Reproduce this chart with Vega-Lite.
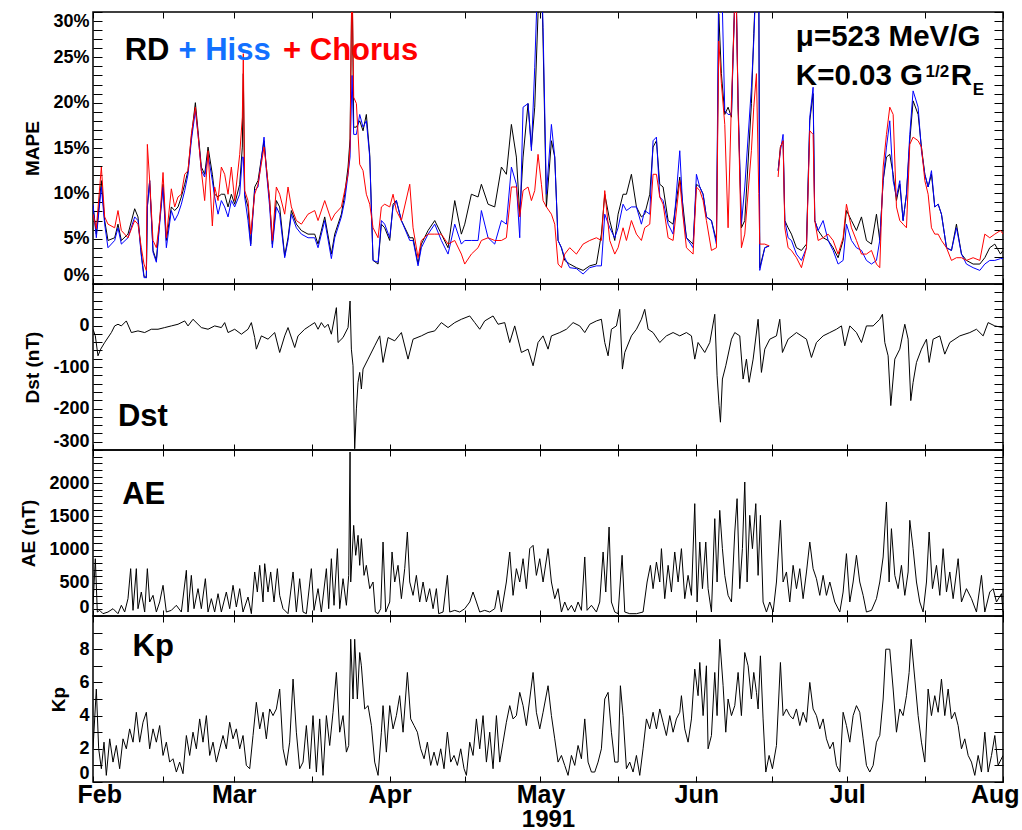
{
"$schema":"https://vega.github.io/schema/vega-lite/v6.json",
"padding":{"left":19,"top":10,"right":5,"bottom":0},
"config":{"view":{"stroke":"black","strokeWidth":1.5},"font":"Liberation Sans",
"axis":{"domain":false,"grid":false,"tickColor":"black","tickWidth":1,"labelColor":"black","labelFont":"Liberation Sans","labelFontWeight":"bold","titleColor":"black","titleFont":"Liberation Sans","titleFontWeight":"bold","labelOverlap":false}},
"datasets":{
"mape":[{"t":0,"k":8.6,"b":8.8,"r":7.7},{"t":0.66,"k":5.5,"b":5.1,"r":6.1},{"t":1.66,"k":11.4,"b":10.7,"r":12.9},{"t":2.32,"k":7,"b":6.6,"r":7.4},{"t":2.98,"k":4.8,"b":4,"r":6.6},{"t":4.31,"k":5.1,"b":4.8,"r":6.2},{"t":4.97,"k":6.6,"b":6.2,"r":8.1},{"t":5.64,"k":4.8,"b":4.4,"r":5.9},{"t":6.96,"k":5.5,"b":5.1,"r":5.1},{"t":8.29,"k":8.3,"b":7.4,"r":7},{"t":8.95,"k":7.4,"b":7,"r":6.6},{"t":9.61,"k":3.3,"b":3.1,"r":4},{"t":10.14,"k":0.9,"b":0.7,"r":2.2},{"t":10.61,"k":0.7,"b":0.7,"r":1.5},{"t":10.81,"k":8.5,"b":8.5,"r":15.4},{"t":11.27,"k":11.4,"b":11.4,"r":11.4},{"t":11.94,"k":3.7,"b":3.5,"r":4.8},{"t":12.6,"k":2.6,"b":2.4,"r":4},{"t":13.26,"k":7,"b":6.6,"r":7},{"t":13.93,"k":11,"b":10.7,"r":12.3},{"t":14.59,"k":4.8,"b":4,"r":5.1},{"t":15.58,"k":8.5,"b":8.1,"r":10.5},{"t":16.25,"k":8.1,"b":7,"r":8.5},{"t":16.91,"k":8.5,"b":7.7,"r":9.6},{"t":17.57,"k":9.6,"b":8.8,"r":9.9},{"t":18.24,"k":11,"b":10.3,"r":12.1},{"t":18.9,"k":12.5,"b":12.1,"r":12.5},{"t":19.56,"k":16.2,"b":15.8,"r":16.5},{"t":20.36,"k":20,"b":19.1,"r":19.5},{"t":20.89,"k":16.9,"b":16.5,"r":16.5},{"t":21.55,"k":12.9,"b":12.5,"r":12.5},{"t":22.21,"k":12.1,"b":11.8,"r":9.2},{"t":22.88,"k":15.1,"b":14.3,"r":14.7},{"t":23.74,"k":12.1,"b":11.4,"r":6.4},{"t":24.2,"k":9.9,"b":9.6,"r":10.7},{"t":24.87,"k":9.6,"b":7.7,"r":9.2},{"t":25.53,"k":9.9,"b":9.2,"r":12.9},{"t":26.19,"k":9.9,"b":8.5,"r":12.1},{"t":26.86,"k":8.5,"b":7.4,"r":9.9},{"t":27.52,"k":9.9,"b":9.2,"r":12.9},{"t":28.18,"k":8.8,"b":8.5,"r":9.2},{"t":29.18,"k":11,"b":9.9,"r":14.3},{"t":29.7,"k":15.1,"b":14,"r":18.4},{"t":29.9,"k":23.2,"b":14,"r":25.4},{"t":30.17,"k":9.9,"b":9.6,"r":10.3},{"t":30.83,"k":8.5,"b":7,"r":9.2},{"t":31.37,"k":4.4,"b":4.2,"r":5.5},{"t":32.16,"k":10.7,"b":10.3,"r":9.9},{"t":32.82,"k":11.4,"b":10.7,"r":11},{"t":34.02,"k":15.8,"b":16.2,"r":15.1},{"t":34.48,"k":12.9,"b":12.5,"r":12.9},{"t":35.14,"k":9.2,"b":8.5,"r":9.2},{"t":35.67,"k":4.4,"b":4,"r":4.8},{"t":36.47,"k":9.2,"b":8.5,"r":10.7},{"t":37.13,"k":8.5,"b":7.7,"r":9.9},{"t":38.13,"k":3.1,"b":2.9,"r":7.7},{"t":38.79,"k":5.1,"b":4.8,"r":10.7},{"t":39.46,"k":8.1,"b":7.7,"r":8.5},{"t":40.45,"k":6.6,"b":6.2,"r":7},{"t":41.45,"k":5.9,"b":5.5,"r":6.6},{"t":42.77,"k":5.5,"b":5.1,"r":7.7},{"t":44.1,"k":5.5,"b":5.1,"r":8.1},{"t":44.76,"k":4.4,"b":4,"r":7},{"t":46.09,"k":7.4,"b":7,"r":9.2},{"t":47.41,"k":3.3,"b":2.8,"r":7},{"t":48.08,"k":5.5,"b":5.1,"r":7.7},{"t":49.4,"k":7.7,"b":7.4,"r":8.5},{"t":50.07,"k":9.9,"b":9.2,"r":10.3},{"t":50.73,"k":12.9,"b":12.1,"r":12.1},{"t":51.13,"k":16,"b":14,"r":15.1},{"t":51.52,"k":35,"b":23,"r":35},{"t":51.85,"k":17.3,"b":16.5,"r":20.6},{"t":52.39,"k":17.3,"b":16.5,"r":19.9},{"t":53.05,"k":18,"b":18.7,"r":13.2},{"t":53.71,"k":16.9,"b":17.3,"r":12.5},{"t":54.37,"k":18.7,"b":18,"r":9.9},{"t":55.04,"k":14.3,"b":14,"r":8.8},{"t":55.7,"k":2.6,"b":2.6,"r":6.2},{"t":56.7,"k":2.2,"b":2.4,"r":5.1},{"t":57.36,"k":6.6,"b":7,"r":8.5},{"t":58.02,"k":6.2,"b":6.6,"r":8.8},{"t":59.02,"k":4.8,"b":5.1,"r":8.5},{"t":59.68,"k":8.8,"b":8.5,"r":9.9},{"t":60.34,"k":9.2,"b":9.2,"r":8.1},{"t":61.34,"k":7,"b":7,"r":7},{"t":63,"k":5.1,"b":4.8,"r":11},{"t":63.66,"k":5.1,"b":4.8,"r":6.2},{"t":64.65,"k":2.2,"b":2,"r":2.9},{"t":65.31,"k":4.4,"b":4,"r":4.8},{"t":66.64,"k":5.9,"b":5.5,"r":5.5},{"t":67.97,"k":7,"b":6.6,"r":5.5},{"t":69.29,"k":5.5,"b":4.8,"r":5.5},{"t":70.62,"k":4,"b":3.3,"r":4.4},{"t":71.95,"k":9.2,"b":6.6,"r":4.8},{"t":73.27,"k":5.5,"b":4.4,"r":3.3},{"t":73.94,"k":6.6,"b":4.8,"r":2.2},{"t":75.26,"k":9.9,"b":4.8,"r":3.3},{"t":76.59,"k":9.6,"b":4.8,"r":4},{"t":77.25,"k":11,"b":8.1,"r":4.8},{"t":78.58,"k":8.8,"b":5.1,"r":5.1},{"t":79.9,"k":8.5,"b":4.4,"r":4.8},{"t":81.23,"k":12.9,"b":7,"r":4.8},{"t":82.22,"k":12.1,"b":6.6,"r":5.1},{"t":83.22,"k":17.6,"b":12.9,"r":10.7},{"t":84.21,"k":14,"b":11,"r":10.7},{"t":84.88,"k":7.7,"b":5.1,"r":7.4},{"t":85.54,"k":14,"b":19.5,"r":10.3},{"t":86.53,"k":19.9,"b":19.9,"r":10.7},{"t":87.2,"k":15.1,"b":14.7,"r":9.2},{"t":87.86,"k":19.5,"b":23.9,"r":10.3},{"t":88.52,"k":29.8,"b":35,"r":14.3},{"t":89.19,"k":35,"b":35,"r":11},{"t":89.52,"k":26.8,"b":28.3,"r":9.2},{"t":90.18,"k":8.5,"b":9.9,"r":8.5},{"t":91.18,"k":15.8,"b":17.6,"r":7.7},{"t":91.84,"k":14,"b":14,"r":6.6},{"t":92.5,"k":4.8,"b":4.8,"r":2.2},{"t":93.17,"k":4,"b":4,"r":1.8},{"t":93.83,"k":2.6,"b":2.9,"r":3.3},{"t":94.82,"k":2.2,"b":1.8,"r":4},{"t":96.15,"k":1.8,"b":1.7,"r":3.3},{"t":97.48,"k":1.5,"b":1.1,"r":4.4},{"t":98.8,"k":2,"b":1.8,"r":4.8},{"t":100.13,"k":2.2,"b":2,"r":5.1},{"t":101.12,"k":5.5,"b":2,"r":4.8},{"t":101.79,"k":9.9,"b":7.7,"r":10.3},{"t":102.78,"k":7,"b":6.2,"r":4.8},{"t":103.78,"k":4.8,"b":5.1,"r":3.3},{"t":104.44,"k":7.7,"b":6.2,"r":4},{"t":105.43,"k":9.9,"b":8.8,"r":6.2},{"t":106.1,"k":9.9,"b":8.1,"r":4.8},{"t":107.09,"k":12.1,"b":8.5,"r":7},{"t":108.09,"k":8.5,"b":8.5,"r":5.5},{"t":109.08,"k":7.4,"b":6.6,"r":4.8},{"t":109.74,"k":7.7,"b":8.1,"r":6.2},{"t":110.74,"k":9.9,"b":7.7,"r":6.6},{"t":111.4,"k":15.1,"b":15.8,"r":12.1},{"t":112.07,"k":15.8,"b":16.2,"r":12.1},{"t":112.73,"k":11,"b":9.6,"r":9.6},{"t":113.39,"k":10.7,"b":9.2,"r":8.8},{"t":114.39,"k":7,"b":6.6,"r":5.1},{"t":115.38,"k":6.6,"b":5.5,"r":4.8},{"t":116.71,"k":11.8,"b":14.7,"r":11.4},{"t":117.37,"k":8.5,"b":7.7,"r":7.4},{"t":118.03,"k":5.1,"b":5.1,"r":4},{"t":119.36,"k":4.4,"b":4,"r":3.3},{"t":120.02,"k":11,"b":12.1,"r":10.7},{"t":120.69,"k":10.7,"b":10.7,"r":10.3},{"t":121.35,"k":9.9,"b":9.9,"r":9.2},{"t":122.01,"k":7.4,"b":7.4,"r":7},{"t":123.01,"k":7,"b":7,"r":3.7},{"t":124,"k":4.8,"b":4.4,"r":4},{"t":124.47,"k":29.8,"b":35,"r":26.8},{"t":124.99,"k":23.2,"b":35,"r":22.1},{"t":125.66,"k":18.7,"b":19.1,"r":17.6},{"t":126.32,"k":19.5,"b":18.7,"r":6.2},{"t":126.99,"k":18.4,"b":18.7,"r":20.2},{"t":127.32,"k":25.7,"b":25,"r":25.4},{"t":127.85,"k":35,"b":35,"r":35},{"t":128.31,"k":19.5,"b":20.2,"r":19.5},{"t":128.97,"k":6.2,"b":6.6,"r":4},{"t":129.64,"k":7,"b":10.7,"r":5.5},{"t":130.96,"k":19.9,"b":21.7,"r":14.7},{"t":131.43,"k":27.6,"b":26.8,"r":19.5},{"t":131.96,"k":35,"b":35,"r":23.2},{"t":132.42,"k":35,"b":35,"r":10},{"t":132.62,"k":1.8,"b":1.5,"r":4.4},{"t":133.62,"k":4,"b":4,"r":4.4},{"t":134.48,"k":4.2,"b":4.2,"r":4.2},{"t":135.4,"k":null,"b":null,"r":null},{"t":136.27,"k":12.5,"b":12.5,"r":11.8},{"t":136.73,"k":15.1,"b":14.7,"r":15.1},{"t":137.26,"k":15.8,"b":16.5,"r":15.8},{"t":137.6,"k":7,"b":7,"r":6.2},{"t":138.26,"k":6.2,"b":5.1,"r":4},{"t":138.92,"k":5.5,"b":4.8,"r":3.7},{"t":139.92,"k":4,"b":3.3,"r":2.9},{"t":140.91,"k":3.7,"b":2.6,"r":1.8},{"t":141.91,"k":4.4,"b":4,"r":4},{"t":142.57,"k":18,"b":18.4,"r":16.9},{"t":143.23,"k":21,"b":21.7,"r":16.5},{"t":143.56,"k":7,"b":7,"r":7},{"t":144.23,"k":5.9,"b":5.9,"r":4.8},{"t":145.22,"k":5.1,"b":7,"r":5.1},{"t":146.22,"k":4.8,"b":4.8,"r":5.5},{"t":147.21,"k":4,"b":3.7,"r":4.8},{"t":148.2,"k":2.9,"b":2.2,"r":3.3},{"t":149.2,"k":4.8,"b":2.6,"r":5.1},{"t":149.86,"k":8.1,"b":6.6,"r":8.8},{"t":150.86,"k":7,"b":4.8,"r":6.2},{"t":151.85,"k":5.9,"b":4,"r":4.8},{"t":152.85,"k":7.4,"b":3.7,"r":3.3},{"t":153.84,"k":4.8,"b":2.6,"r":3.3},{"t":154.84,"k":4.4,"b":2.2,"r":3.7},{"t":155.83,"k":7.7,"b":2.6,"r":2.2},{"t":156.49,"k":4.8,"b":4.8,"r":1.8},{"t":157.16,"k":11.4,"b":11.4,"r":12.9},{"t":157.82,"k":14,"b":15.1,"r":16.5},{"t":158.48,"k":14.3,"b":18,"r":19.5},{"t":159.15,"k":12.1,"b":11.4,"r":18.7},{"t":159.81,"k":9.2,"b":9.6,"r":8.5},{"t":160.47,"k":11,"b":11.4,"r":7},{"t":161.13,"k":7,"b":7,"r":6.6},{"t":161.8,"k":9.9,"b":9.9,"r":6.2},{"t":162.46,"k":15.8,"b":16.5,"r":15.4},{"t":163.12,"k":20.2,"b":21.3,"r":16.2},{"t":164.12,"k":18.7,"b":19.5,"r":15.8},{"t":164.78,"k":15.1,"b":14.7,"r":15.1},{"t":165.45,"k":12.1,"b":12.1,"r":11.4},{"t":166.11,"k":10.7,"b":10.7,"r":9.9},{"t":166.77,"k":12.1,"b":12.5,"r":6.2},{"t":167.43,"k":8.5,"b":8.5,"r":5.5},{"t":168.1,"k":8.8,"b":8.8,"r":5.5},{"t":168.76,"k":7.7,"b":7.7,"r":4.8},{"t":169.76,"k":4,"b":4,"r":4},{"t":170.75,"k":3.7,"b":3.7,"r":2.6},{"t":171.74,"k":6.6,"b":6.2,"r":2.9},{"t":172.74,"k":3.3,"b":3.3,"r":2.9},{"t":173.73,"k":2.6,"b":2.2,"r":2.6},{"t":175.06,"k":2.2,"b":1.8,"r":2.9},{"t":176.39,"k":2.2,"b":1.5,"r":2.6},{"t":177.38,"k":2.9,"b":2.2,"r":5.5},{"t":178.37,"k":4,"b":2.6,"r":5.1},{"t":179.37,"k":4.4,"b":2.6,"r":5.5},{"t":180.5,"k":3.3,"b":2.8,"r":5.9},{"t":181,"k":3.7,"b":2.8,"r":5.5}],
"dst":[{"t":0,"v":-9},{"t":0.46,"v":-25},{"t":0.99,"v":-73},{"t":1.53,"v":-57},{"t":2.32,"v":-41},{"t":3.65,"v":-17},{"t":4.31,"v":-1},{"t":4.97,"v":3},{"t":5.64,"v":-1},{"t":6.63,"v":11},{"t":7.63,"v":-17},{"t":8.95,"v":-13},{"t":10.28,"v":-17},{"t":11.6,"v":-9},{"t":12.93,"v":-9},{"t":14.26,"v":-5},{"t":15.58,"v":-1},{"t":16.91,"v":3},{"t":18.24,"v":11},{"t":18.9,"v":-1},{"t":19.89,"v":15},{"t":21.55,"v":-5},{"t":22.88,"v":-9},{"t":24.2,"v":-1},{"t":25.53,"v":-5},{"t":26.19,"v":7},{"t":26.86,"v":-17},{"t":28.18,"v":-9},{"t":29.51,"v":-21},{"t":30.83,"v":-9},{"t":31.5,"v":7},{"t":32.16,"v":-29},{"t":32.49,"v":-57},{"t":33.49,"v":-25},{"t":34.81,"v":-33},{"t":36.14,"v":-17},{"t":37.13,"v":-65},{"t":38.13,"v":-25},{"t":38.79,"v":-5},{"t":40.12,"v":-53},{"t":40.78,"v":-25},{"t":42.11,"v":-9},{"t":43.1,"v":-1},{"t":44.1,"v":7},{"t":44.76,"v":-9},{"t":45.42,"v":7},{"t":46.09,"v":-5},{"t":46.75,"v":3},{"t":47.41,"v":-21},{"t":48.41,"v":43},{"t":48.74,"v":-41},{"t":49.73,"v":-29},{"t":50.73,"v":-5},{"t":51.13,"v":59},{"t":51.39,"v":-57},{"t":51.72,"v":-97},{"t":52.05,"v":-297},{"t":52.39,"v":-201},{"t":52.72,"v":-137},{"t":53.05,"v":-113},{"t":53.38,"v":-153},{"t":53.71,"v":-105},{"t":54.71,"v":-81},{"t":56.03,"v":-49},{"t":57.03,"v":-25},{"t":57.69,"v":-89},{"t":58.68,"v":-29},{"t":60.01,"v":-37},{"t":61.34,"v":-17},{"t":62.66,"v":-81},{"t":63.66,"v":-33},{"t":65.31,"v":-25},{"t":66.64,"v":-17},{"t":67.97,"v":-13},{"t":69.29,"v":7},{"t":70.62,"v":-5},{"t":71.95,"v":7},{"t":73.27,"v":15},{"t":74.93,"v":23},{"t":75.93,"v":7},{"t":76.92,"v":-9},{"t":77.91,"v":11},{"t":79.57,"v":23},{"t":80.57,"v":3},{"t":81.89,"v":7},{"t":82.89,"v":-41},{"t":83.88,"v":-1},{"t":85.21,"v":-65},{"t":86.53,"v":-57},{"t":87.53,"v":-97},{"t":88.52,"v":-41},{"t":89.52,"v":-25},{"t":90.51,"v":-57},{"t":91.18,"v":-25},{"t":92.84,"v":-17},{"t":94.16,"v":-9},{"t":95.49,"v":7},{"t":96.81,"v":-1},{"t":97.81,"v":-17},{"t":98.8,"v":3},{"t":100.13,"v":11},{"t":101.12,"v":15},{"t":101.79,"v":-41},{"t":102.45,"v":-73},{"t":103.11,"v":-9},{"t":104.11,"v":-1},{"t":104.77,"v":39},{"t":105.3,"v":-105},{"t":105.77,"v":-65},{"t":107.09,"v":-25},{"t":108.09,"v":-9},{"t":109.08,"v":15},{"t":109.74,"v":39},{"t":110.41,"v":-9},{"t":111.4,"v":-17},{"t":112.73,"v":-41},{"t":114.05,"v":-25},{"t":115.38,"v":-17},{"t":116.71,"v":-25},{"t":118.03,"v":-17},{"t":119.03,"v":-25},{"t":119.69,"v":-81},{"t":120.35,"v":-41},{"t":121.68,"v":-65},{"t":122.68,"v":-41},{"t":123.67,"v":27},{"t":124.13,"v":-121},{"t":124.53,"v":-193},{"t":124.8,"v":-233},{"t":125.19,"v":-129},{"t":125.86,"v":-97},{"t":126.99,"v":-33},{"t":127.65,"v":-17},{"t":128.64,"v":-25},{"t":129.31,"v":-129},{"t":129.97,"v":-81},{"t":130.5,"v":-137},{"t":131.3,"v":-81},{"t":132.29,"v":15},{"t":132.95,"v":-113},{"t":133.62,"v":-57},{"t":134.61,"v":-33},{"t":135.94,"v":-25},{"t":136.6,"v":15},{"t":137.13,"v":-65},{"t":138.26,"v":-33},{"t":139.92,"v":-17},{"t":141.91,"v":-33},{"t":142.9,"v":-77},{"t":143.89,"v":-41},{"t":145.22,"v":-25},{"t":146.55,"v":-17},{"t":147.87,"v":-9},{"t":148.87,"v":-1},{"t":149.53,"v":-49},{"t":150.53,"v":-1},{"t":151.85,"v":-17},{"t":152.85,"v":-41},{"t":153.84,"v":-1},{"t":155.17,"v":-1},{"t":156.49,"v":15},{"t":157.02,"v":27},{"t":157.49,"v":-41},{"t":158.15,"v":-73},{"t":158.68,"v":-193},{"t":159.48,"v":-81},{"t":160.47,"v":-57},{"t":161.47,"v":3},{"t":162.13,"v":-33},{"t":162.66,"v":-181},{"t":163.12,"v":-137},{"t":163.79,"v":-89},{"t":164.78,"v":-57},{"t":165.78,"v":-33},{"t":166.31,"v":-89},{"t":167.1,"v":-33},{"t":168.43,"v":-25},{"t":169.42,"v":-69},{"t":170.42,"v":-41},{"t":172.41,"v":-25},{"t":174.4,"v":-17},{"t":175.72,"v":-9},{"t":177.05,"v":-25},{"t":178.04,"v":7},{"t":179.37,"v":-1},{"t":181,"v":-5}],
"ae":[{"t":0,"v":161},{"t":0.46,"v":863},{"t":0.86,"v":60},{"t":1.33,"v":85},{"t":1.99,"v":35},{"t":2.98,"v":60},{"t":3.98,"v":110},{"t":4.97,"v":35},{"t":5.64,"v":161},{"t":6.3,"v":60},{"t":6.96,"v":261},{"t":7.49,"v":713},{"t":7.96,"v":85},{"t":8.62,"v":713},{"t":8.95,"v":110},{"t":9.61,"v":361},{"t":10.28,"v":60},{"t":10.81,"v":713},{"t":11.27,"v":211},{"t":11.94,"v":311},{"t":12.6,"v":60},{"t":13.26,"v":211},{"t":13.93,"v":462},{"t":14.59,"v":60},{"t":15.58,"v":85},{"t":16.58,"v":161},{"t":17.57,"v":60},{"t":18.57,"v":688},{"t":18.9,"v":60},{"t":19.56,"v":612},{"t":20.09,"v":110},{"t":20.89,"v":412},{"t":21.55,"v":110},{"t":22.35,"v":562},{"t":22.88,"v":60},{"t":23.54,"v":261},{"t":24.2,"v":60},{"t":24.87,"v":336},{"t":25.53,"v":60},{"t":26.52,"v":361},{"t":27.19,"v":110},{"t":27.85,"v":462},{"t":28.51,"v":136},{"t":29.18,"v":412},{"t":29.84,"v":60},{"t":30.83,"v":286},{"t":31.5,"v":35},{"t":32.16,"v":663},{"t":32.69,"v":361},{"t":33.16,"v":763},{"t":33.82,"v":211},{"t":34.15,"v":788},{"t":34.81,"v":361},{"t":35.34,"v":663},{"t":36.01,"v":211},{"t":36.67,"v":713},{"t":37.13,"v":311},{"t":37.8,"v":110},{"t":38.79,"v":35},{"t":39.79,"v":663},{"t":40.45,"v":60},{"t":41.11,"v":562},{"t":41.78,"v":60},{"t":42.44,"v":35},{"t":43.43,"v":713},{"t":43.96,"v":85},{"t":44.76,"v":412},{"t":45.42,"v":60},{"t":46.42,"v":713},{"t":46.88,"v":110},{"t":47.41,"v":863},{"t":47.94,"v":161},{"t":48.61,"v":1014},{"t":49.07,"v":110},{"t":49.73,"v":562},{"t":50.4,"v":161},{"t":50.86,"v":612},{"t":51.13,"v":2470},{"t":51.26,"v":512},{"t":51.85,"v":1365},{"t":52.25,"v":914},{"t":52.72,"v":1215},{"t":53.05,"v":763},{"t":53.38,"v":1165},{"t":53.91,"v":612},{"t":54.37,"v":763},{"t":55.04,"v":412},{"t":55.7,"v":512},{"t":56.16,"v":60},{"t":56.7,"v":35},{"t":57.23,"v":110},{"t":57.69,"v":1114},{"t":58.22,"v":60},{"t":59.02,"v":211},{"t":59.48,"v":964},{"t":60.01,"v":512},{"t":60.67,"v":763},{"t":61.34,"v":261},{"t":62,"v":713},{"t":62.53,"v":1265},{"t":63,"v":512},{"t":63.66,"v":311},{"t":64.32,"v":612},{"t":64.98,"v":211},{"t":65.65,"v":512},{"t":66.31,"v":211},{"t":66.97,"v":412},{"t":67.64,"v":110},{"t":68.3,"v":412},{"t":68.76,"v":35},{"t":69.63,"v":60},{"t":70.49,"v":612},{"t":70.95,"v":60},{"t":71.95,"v":85},{"t":72.94,"v":60},{"t":73.94,"v":110},{"t":74.93,"v":211},{"t":75.59,"v":361},{"t":76.26,"v":211},{"t":76.92,"v":60},{"t":77.91,"v":85},{"t":78.91,"v":60},{"t":79.9,"v":110},{"t":80.57,"v":387},{"t":81.23,"v":60},{"t":82.22,"v":512},{"t":82.89,"v":964},{"t":83.55,"v":311},{"t":84.21,"v":713},{"t":84.88,"v":512},{"t":85.54,"v":863},{"t":86.2,"v":412},{"t":86.87,"v":1014},{"t":87.53,"v":1064},{"t":88.19,"v":612},{"t":88.86,"v":863},{"t":89.52,"v":512},{"t":90.51,"v":1014},{"t":91.18,"v":512},{"t":91.84,"v":261},{"t":92.5,"v":412},{"t":93.17,"v":60},{"t":93.83,"v":211},{"t":94.49,"v":85},{"t":95.16,"v":161},{"t":95.82,"v":60},{"t":96.48,"v":211},{"t":97.15,"v":85},{"t":97.81,"v":889},{"t":98.27,"v":85},{"t":99.14,"v":161},{"t":100.13,"v":60},{"t":100.79,"v":211},{"t":101.46,"v":964},{"t":101.99,"v":361},{"t":102.65,"v":1340},{"t":103.11,"v":211},{"t":103.78,"v":60},{"t":104.44,"v":35},{"t":105.24,"v":914},{"t":105.77,"v":60},{"t":106.76,"v":35},{"t":108.09,"v":35},{"t":109.41,"v":60},{"t":110.21,"v":512},{"t":110.87,"v":763},{"t":111.4,"v":412},{"t":112.07,"v":813},{"t":112.73,"v":512},{"t":113.06,"v":1014},{"t":113.72,"v":261},{"t":114.39,"v":763},{"t":115.05,"v":361},{"t":115.71,"v":964},{"t":116.38,"v":512},{"t":117.04,"v":1014},{"t":117.7,"v":261},{"t":118.36,"v":612},{"t":119.03,"v":311},{"t":119.69,"v":1692},{"t":120.16,"v":211},{"t":120.69,"v":1114},{"t":121.22,"v":412},{"t":121.88,"v":1114},{"t":122.34,"v":412},{"t":123.01,"v":60},{"t":123.67,"v":1466},{"t":124.13,"v":512},{"t":124.66,"v":1591},{"t":125.19,"v":1014},{"t":125.66,"v":612},{"t":126.32,"v":311},{"t":126.99,"v":211},{"t":127.65,"v":1265},{"t":128.11,"v":1767},{"t":128.64,"v":412},{"t":129.17,"v":1014},{"t":129.64,"v":2018},{"t":130.1,"v":512},{"t":130.63,"v":1516},{"t":131.16,"v":1014},{"t":131.83,"v":1692},{"t":132.29,"v":612},{"t":132.75,"v":1516},{"t":133.28,"v":211},{"t":133.95,"v":60},{"t":134.61,"v":211},{"t":135.27,"v":60},{"t":135.94,"v":512},{"t":136.73,"v":1441},{"t":137.26,"v":512},{"t":137.93,"v":663},{"t":138.59,"v":211},{"t":139.25,"v":763},{"t":139.92,"v":412},{"t":140.58,"v":713},{"t":141.24,"v":261},{"t":141.91,"v":663},{"t":142.57,"v":1114},{"t":143.23,"v":713},{"t":143.89,"v":562},{"t":144.56,"v":311},{"t":145.22,"v":612},{"t":145.88,"v":311},{"t":146.55,"v":512},{"t":147.54,"v":211},{"t":148.54,"v":60},{"t":149.2,"v":361},{"t":149.86,"v":939},{"t":150.53,"v":211},{"t":151.19,"v":512},{"t":151.85,"v":914},{"t":152.51,"v":512},{"t":153.18,"v":311},{"t":153.84,"v":60},{"t":154.84,"v":85},{"t":155.83,"v":261},{"t":156.49,"v":512},{"t":157.16,"v":889},{"t":157.82,"v":1717},{"t":158.35,"v":512},{"t":158.81,"v":1315},{"t":159.48,"v":612},{"t":160.14,"v":412},{"t":160.8,"v":763},{"t":161.47,"v":311},{"t":162.13,"v":663},{"t":162.46,"v":1441},{"t":163.12,"v":1014},{"t":163.79,"v":512},{"t":164.45,"v":211},{"t":165.11,"v":60},{"t":165.78,"v":512},{"t":166.31,"v":1265},{"t":166.97,"v":412},{"t":167.77,"v":763},{"t":168.43,"v":311},{"t":169.09,"v":1014},{"t":169.76,"v":361},{"t":170.42,"v":663},{"t":171.08,"v":261},{"t":172.08,"v":863},{"t":172.74,"v":211},{"t":173.73,"v":412},{"t":174.73,"v":261},{"t":175.72,"v":60},{"t":176.72,"v":612},{"t":177.38,"v":60},{"t":178.37,"v":361},{"t":179.04,"v":412},{"t":179.7,"v":211},{"t":180.7,"v":336},{"t":181,"v":60}],
"kp":[{"t":0,"v":2},{"t":0.66,"v":5.6},{"t":1.13,"v":2},{"t":1.66,"v":0.8},{"t":2.19,"v":2.4},{"t":2.65,"v":0.4},{"t":3.32,"v":2.6},{"t":3.98,"v":1.2},{"t":4.64,"v":2.2},{"t":5.3,"v":0.8},{"t":5.97,"v":2.6},{"t":6.63,"v":2},{"t":7.29,"v":3.2},{"t":7.96,"v":2.4},{"t":8.62,"v":4.2},{"t":9.28,"v":2.4},{"t":9.95,"v":3.6},{"t":10.61,"v":4.2},{"t":11.27,"v":2},{"t":11.94,"v":3.2},{"t":12.6,"v":2.4},{"t":13.26,"v":3.4},{"t":13.93,"v":1.6},{"t":14.59,"v":2.4},{"t":15.25,"v":1.2},{"t":15.91,"v":1.4},{"t":16.58,"v":0.6},{"t":17.24,"v":1.2},{"t":17.9,"v":0.5},{"t":18.57,"v":2.8},{"t":19.23,"v":1.6},{"t":19.89,"v":3},{"t":20.56,"v":2},{"t":21.22,"v":3.8},{"t":21.88,"v":2.4},{"t":22.55,"v":4},{"t":23.21,"v":1.6},{"t":23.87,"v":2.4},{"t":24.54,"v":1.2},{"t":25.2,"v":2},{"t":25.86,"v":2.8},{"t":26.52,"v":2},{"t":27.19,"v":3.6},{"t":27.85,"v":2.6},{"t":28.51,"v":3.2},{"t":29.18,"v":2},{"t":29.84,"v":2.8},{"t":30.5,"v":1},{"t":31.17,"v":0.8},{"t":31.83,"v":2.8},{"t":32.49,"v":4.8},{"t":33.16,"v":3.2},{"t":33.82,"v":4.2},{"t":34.48,"v":2.6},{"t":35.14,"v":4.4},{"t":35.81,"v":4},{"t":36.47,"v":4.4},{"t":37.13,"v":5.6},{"t":37.8,"v":2},{"t":38.46,"v":1},{"t":39.12,"v":2.4},{"t":39.79,"v":6.2},{"t":40.45,"v":3},{"t":41.11,"v":0.8},{"t":41.78,"v":1.2},{"t":42.44,"v":3.4},{"t":43.1,"v":0.8},{"t":43.76,"v":4},{"t":44.43,"v":0.6},{"t":45.09,"v":3.8},{"t":45.75,"v":0.4},{"t":46.42,"v":4},{"t":47.08,"v":2.2},{"t":47.74,"v":4.2},{"t":48.41,"v":6.6},{"t":49.07,"v":3},{"t":49.73,"v":4},{"t":50.4,"v":1.8},{"t":50.86,"v":2.2},{"t":51.26,"v":8.6},{"t":51.72,"v":5},{"t":52.05,"v":8.6},{"t":52.58,"v":5},{"t":53.05,"v":7.8},{"t":53.38,"v":7},{"t":54.04,"v":4.4},{"t":54.71,"v":4.6},{"t":55.37,"v":3.4},{"t":56.03,"v":1.2},{"t":56.7,"v":0.4},{"t":57.36,"v":3},{"t":57.69,"v":4.6},{"t":58.35,"v":1.8},{"t":59.02,"v":4.6},{"t":59.68,"v":3.2},{"t":60.34,"v":4},{"t":61,"v":5.2},{"t":61.67,"v":3},{"t":62.53,"v":6.6},{"t":63.19,"v":3.8},{"t":63.86,"v":3.4},{"t":64.52,"v":3},{"t":65.18,"v":2},{"t":65.85,"v":1.4},{"t":66.51,"v":2.4},{"t":67.17,"v":1},{"t":67.83,"v":1.8},{"t":68.5,"v":1},{"t":69.16,"v":2},{"t":69.82,"v":0.8},{"t":70.49,"v":3},{"t":71.15,"v":1.2},{"t":71.81,"v":1.6},{"t":72.48,"v":1},{"t":73.14,"v":2},{"t":73.8,"v":0.8},{"t":74.27,"v":0.4},{"t":74.93,"v":2.4},{"t":75.59,"v":1.6},{"t":76.26,"v":3.8},{"t":76.92,"v":2},{"t":77.58,"v":4},{"t":78.25,"v":1.2},{"t":78.91,"v":3},{"t":79.57,"v":0.8},{"t":80.24,"v":4},{"t":80.9,"v":1.2},{"t":81.56,"v":2.4},{"t":82.22,"v":3.6},{"t":82.89,"v":4.6},{"t":83.55,"v":3.8},{"t":84.21,"v":4},{"t":84.88,"v":5.4},{"t":85.54,"v":4.6},{"t":86.2,"v":3.4},{"t":86.87,"v":5},{"t":87.53,"v":6.6},{"t":88.19,"v":4.2},{"t":88.86,"v":3.2},{"t":89.52,"v":4.2},{"t":90.51,"v":5.8},{"t":91.18,"v":4},{"t":91.84,"v":2.6},{"t":92.5,"v":1.2},{"t":93.17,"v":1.6},{"t":93.83,"v":1},{"t":94.49,"v":0.4},{"t":95.16,"v":1.6},{"t":95.82,"v":1},{"t":96.48,"v":2.2},{"t":97.15,"v":1.4},{"t":97.81,"v":3.8},{"t":98.47,"v":1.2},{"t":99.14,"v":0.6},{"t":99.8,"v":0.6},{"t":100.46,"v":1.2},{"t":101.12,"v":2},{"t":101.79,"v":5},{"t":102.45,"v":5.4},{"t":103.11,"v":3},{"t":103.78,"v":1.2},{"t":104.44,"v":1.2},{"t":104.9,"v":5.8},{"t":105.43,"v":4},{"t":106.1,"v":0.8},{"t":106.76,"v":1.2},{"t":107.42,"v":0.6},{"t":108.09,"v":1.6},{"t":108.75,"v":0.4},{"t":109.41,"v":2},{"t":110.08,"v":3.8},{"t":110.74,"v":3.2},{"t":111.4,"v":4.2},{"t":112.07,"v":3.2},{"t":112.73,"v":4.4},{"t":113.39,"v":3.6},{"t":114.05,"v":2.8},{"t":114.72,"v":4},{"t":115.38,"v":3},{"t":116.04,"v":3.8},{"t":116.71,"v":4.2},{"t":117.04,"v":5.2},{"t":117.7,"v":3.2},{"t":118.36,"v":2.4},{"t":119.03,"v":3.8},{"t":119.69,"v":6.8},{"t":120.35,"v":5.2},{"t":120.69,"v":7.2},{"t":121.35,"v":4},{"t":122.01,"v":7},{"t":122.34,"v":2},{"t":123.01,"v":2.8},{"t":123.67,"v":6.6},{"t":124.13,"v":4},{"t":124.66,"v":8.6},{"t":125.33,"v":5.8},{"t":125.86,"v":3},{"t":126.32,"v":5},{"t":126.99,"v":4},{"t":127.65,"v":4.6},{"t":128.31,"v":6.6},{"t":128.97,"v":4},{"t":129.64,"v":7.8},{"t":130.3,"v":7},{"t":130.96,"v":5},{"t":131.43,"v":6.6},{"t":131.96,"v":5.4},{"t":132.29,"v":4.4},{"t":132.75,"v":7.6},{"t":133.28,"v":3.8},{"t":133.82,"v":0.6},{"t":134.48,"v":1.6},{"t":135.14,"v":0.8},{"t":135.94,"v":2.2},{"t":136.73,"v":7.2},{"t":137.26,"v":4},{"t":137.93,"v":4.4},{"t":138.59,"v":4},{"t":139.25,"v":3.8},{"t":139.92,"v":4.4},{"t":140.58,"v":3.4},{"t":141.24,"v":4.2},{"t":141.91,"v":3.6},{"t":142.57,"v":6},{"t":143.23,"v":4.4},{"t":143.89,"v":4},{"t":144.56,"v":3.2},{"t":145.22,"v":3.8},{"t":145.88,"v":2.6},{"t":146.55,"v":2},{"t":147.21,"v":2.4},{"t":147.87,"v":1},{"t":148.54,"v":0.6},{"t":149.2,"v":4.2},{"t":149.86,"v":3.4},{"t":150.53,"v":2.4},{"t":151.19,"v":4},{"t":151.85,"v":4.6},{"t":152.51,"v":4.2},{"t":153.18,"v":2.6},{"t":153.84,"v":1},{"t":154.5,"v":0.6},{"t":155.17,"v":1},{"t":155.83,"v":2.4},{"t":156.49,"v":2.8},{"t":157.16,"v":5},{"t":157.69,"v":8},{"t":158.48,"v":8},{"t":159.15,"v":5.6},{"t":159.81,"v":3},{"t":160.47,"v":4.4},{"t":161.13,"v":4},{"t":161.8,"v":5.2},{"t":162.33,"v":6.6},{"t":162.73,"v":8.6},{"t":163.46,"v":6.2},{"t":164.12,"v":4},{"t":164.78,"v":2.4},{"t":165.45,"v":1.2},{"t":166.11,"v":5.6},{"t":166.77,"v":4},{"t":167.43,"v":5.2},{"t":168.1,"v":4.2},{"t":168.76,"v":6.2},{"t":169.42,"v":4},{"t":170.09,"v":5.6},{"t":170.75,"v":3.8},{"t":171.41,"v":4.2},{"t":172.08,"v":3.4},{"t":172.74,"v":2},{"t":173.4,"v":2.6},{"t":174.07,"v":1.6},{"t":174.73,"v":1.2},{"t":175.39,"v":0.4},{"t":176.06,"v":1.6},{"t":176.72,"v":0.6},{"t":177.38,"v":3},{"t":178.04,"v":0.6},{"t":178.71,"v":1.6},{"t":179.37,"v":2.8},{"t":180.03,"v":1},{"t":181,"v":1.6}]
},
"spacing":0,
"bounds":"flush",
"vconcat":[
{"width":910,"height":272,
"layer":[
{"data":{"name":"mape"},"mark":{"type":"line","color":"black","strokeWidth":1,"clip":true,"invalid":"break-paths-show-domains"},
"encoding":{"x":{"field":"t","type":"quantitative","scale":{"domain":[0,181],"nice":false,"zero":false},"axis":{"orient":"bottom","values":[0,14,28,43.5,59,74,89,104.5,120,135,150,165.5,181],"tickSize":-6,"labels":false,"title":null,"minExtent":0,"maxExtent":0}},
"y":{"field":"k","type":"quantitative","scale":{"domain":[0,30],"nice":false,"zero":false},"axis":{"orient":"left","values":[0,1,2,3,4,5,6,7,8,9,10,11,12,13,14,15,16,17,18,19,20,21,22,23,24,25,26,27,28,29,30],"tickSize":-9,"labelExpr":"datum.value % 5 === 0 ? datum.value + '%' : ''","labelFontSize":18,"labelPadding":13,"labelFlush":true,"title":"MAPE","titleFontSize":19,"titlePadding":10}}}},
{"data":{"name":"mape"},"mark":{"type":"line","color":"#0000ff","strokeWidth":1,"clip":true,"invalid":"break-paths-show-domains"},
"encoding":{"x":{"field":"t","type":"quantitative","scale":{"domain":[0,181],"nice":false,"zero":false},"axis":{"orient":"top","values":[0,14,28,43.5,59,74,89,104.5,120,135,150,165.5,181],"tickSize":-6,"labels":false,"title":null,"minExtent":0,"maxExtent":0}},
"y":{"field":"b","type":"quantitative","scale":{"domain":[0,30],"nice":false,"zero":false},"axis":{"orient":"right","values":[0,1,2,3,4,5,6,7,8,9,10,11,12,13,14,15,16,17,18,19,20,21,22,23,24,25,26,27,28,29,30],"tickSize":-9,"labels":false,"title":null,"minExtent":0,"maxExtent":0}}}},
{"data":{"name":"mape"},"mark":{"type":"line","color":"#ff0000","strokeWidth":1,"clip":true,"invalid":"break-paths-show-domains"},
"encoding":{"x":{"field":"t","type":"quantitative","scale":{"domain":[0,181],"nice":false,"zero":false},"axis":null},
"y":{"field":"r","type":"quantitative","scale":{"domain":[0,30],"nice":false,"zero":false},"axis":null}}},
{"data":{"values":[{"s":"RD"}]},"mark":{"type":"text","align":"left","baseline":"alphabetic","fontSize":31,"fontWeight":"bold","color":"black"},
"encoding":{"text":{"field":"s"},"x":{"datum":6.3,"type":"quantitative","scale":{"domain":[0,181],"nice":false,"zero":false},"axis":null},"y":{"datum":24.7,"type":"quantitative","scale":{"domain":[0,30],"nice":false,"zero":false},"axis":null}}},
{"data":{"values":[{"s":"+ Hiss"}]},"mark":{"type":"text","align":"left","baseline":"alphabetic","fontSize":31,"fontWeight":"bold","color":"#1270ff"},
"encoding":{"text":{"field":"s"},"x":{"datum":17.0,"type":"quantitative","scale":{"domain":[0,181],"nice":false,"zero":false},"axis":null},"y":{"datum":24.7,"type":"quantitative","scale":{"domain":[0,30],"nice":false,"zero":false},"axis":null}}},
{"data":{"values":[{"s":"+ Chorus"}]},"mark":{"type":"text","align":"left","baseline":"alphabetic","fontSize":31,"fontWeight":"bold","color":"#ff0000"},
"encoding":{"text":{"field":"s"},"x":{"datum":37.8,"type":"quantitative","scale":{"domain":[0,181],"nice":false,"zero":false},"axis":null},"y":{"datum":24.7,"type":"quantitative","scale":{"domain":[0,30],"nice":false,"zero":false},"axis":null}}},
{"data":{"values":[{"s":"μ=523 MeV/G"}]},"mark":{"type":"text","align":"left","baseline":"alphabetic","fontSize":29.5,"fontWeight":"bold","color":"black"},
"encoding":{"text":{"field":"s"},"x":{"datum":139.8,"type":"quantitative","scale":{"domain":[0,181],"nice":false,"zero":false},"axis":null},"y":{"datum":26.2,"type":"quantitative","scale":{"domain":[0,30],"nice":false,"zero":false},"axis":null}}},
{"data":{"values":[{"s":"K=0.03 G"}]},"mark":{"type":"text","align":"left","baseline":"alphabetic","fontSize":29.5,"fontWeight":"bold","color":"black"},
"encoding":{"text":{"field":"s"},"x":{"datum":139.8,"type":"quantitative","scale":{"domain":[0,181],"nice":false,"zero":false},"axis":null},"y":{"datum":21.9,"type":"quantitative","scale":{"domain":[0,30],"nice":false,"zero":false},"axis":null}}},
{"data":{"values":[{"s":"1/2"}]},"mark":{"type":"text","align":"left","baseline":"alphabetic","fontSize":17,"fontWeight":"bold","color":"black"},
"encoding":{"text":{"field":"s"},"x":{"datum":165.6,"type":"quantitative","scale":{"domain":[0,181],"nice":false,"zero":false},"axis":null},"y":{"datum":22.8,"type":"quantitative","scale":{"domain":[0,30],"nice":false,"zero":false},"axis":null}}},
{"data":{"values":[{"s":"R"}]},"mark":{"type":"text","align":"left","baseline":"alphabetic","fontSize":29.5,"fontWeight":"bold","color":"black"},
"encoding":{"text":{"field":"s"},"x":{"datum":170.6,"type":"quantitative","scale":{"domain":[0,181],"nice":false,"zero":false},"axis":null},"y":{"datum":21.9,"type":"quantitative","scale":{"domain":[0,30],"nice":false,"zero":false},"axis":null}}},
{"data":{"values":[{"s":"E"}]},"mark":{"type":"text","align":"left","baseline":"alphabetic","fontSize":17,"fontWeight":"bold","color":"black"},
"encoding":{"text":{"field":"s"},"x":{"datum":175.0,"type":"quantitative","scale":{"domain":[0,181],"nice":false,"zero":false},"axis":null},"y":{"datum":20.9,"type":"quantitative","scale":{"domain":[0,30],"nice":false,"zero":false},"axis":null}}}
],
"resolve":{"axis":{"x":"independent","y":"independent"}}},
{"width":910,"height":166,
"layer":[
{"data":{"name":"dst"},"mark":{"type":"line","color":"black","strokeWidth":1,"clip":true},
"encoding":{"x":{"field":"t","type":"quantitative","scale":{"domain":[0,181],"nice":false,"zero":false},"axis":{"orient":"bottom","values":[0,14,28,43.5,59,74,89,104.5,120,135,150,165.5,181],"tickSize":-6,"labels":false,"title":null,"minExtent":0,"maxExtent":0}},
"y":{"field":"v","type":"quantitative","scale":{"domain":[-300,100],"nice":false,"zero":false},"axis":{"orient":"left","values":[-300,-280,-260,-240,-220,-200,-180,-160,-140,-120,-100,-80,-60,-40,-20,0,20,40,60,80,100],"tickSize":-9,"labelExpr":"(datum.value % 100 === 0 && datum.value < 100) ? '' + datum.value : ''","labelFontSize":18,"labelPadding":13,"labelFlush":true,"title":"Dst (nT)","titleFontSize":19,"titlePadding":10}}}},
{"data":{"values":[{"s":"Dst"}]},"mark":{"type":"text","align":"left","baseline":"alphabetic","fontSize":31,"fontWeight":"bold","color":"black"},
"encoding":{"text":{"field":"s"},"x":{"datum":4.97,"type":"quantitative","scale":{"domain":[0,181],"nice":false,"zero":false},"axis":{"orient":"top","values":[0,14,28,43.5,59,74,89,104.5,120,135,150,165.5,181],"tickSize":-6,"labels":false,"title":null,"minExtent":0,"maxExtent":0}},
"y":{"datum":-242,"type":"quantitative","scale":{"domain":[-300,100],"nice":false,"zero":false},"axis":{"orient":"right","values":[-300,-280,-260,-240,-220,-200,-180,-160,-140,-120,-100,-80,-60,-40,-20,0,20,40,60,80,100],"tickSize":-9,"labels":false,"title":null,"minExtent":0,"maxExtent":0}}}}
],
"resolve":{"axis":{"x":"independent","y":"independent"}}},
{"width":910,"height":166,
"layer":[
{"data":{"name":"ae"},"mark":{"type":"line","color":"black","strokeWidth":1,"clip":true},
"encoding":{"x":{"field":"t","type":"quantitative","scale":{"domain":[0,181],"nice":false,"zero":false},"axis":{"orient":"bottom","values":[0,14,28,43.5,59,74,89,104.5,120,135,150,165.5,181],"tickSize":-6,"labels":false,"title":null,"minExtent":0,"maxExtent":0}},
"y":{"field":"v","type":"quantitative","scale":{"domain":[0,2500],"nice":false,"zero":false},"axis":{"orient":"left","values":[0,100,200,300,400,500,600,700,800,900,1000,1100,1200,1300,1400,1500,1600,1700,1800,1900,2000,2100,2200,2300,2400,2500],"tickSize":-9,"labelExpr":"(datum.value % 500 === 0 && datum.value < 2500) ? '' + datum.value : ''","labelFontSize":18,"labelPadding":13,"labelFlush":true,"title":"AE (nT)","titleFontSize":19,"titlePadding":10}}}},
{"data":{"values":[{"s":"AE"}]},"mark":{"type":"text","align":"left","baseline":"alphabetic","fontSize":31,"fontWeight":"bold","color":"black"},
"encoding":{"text":{"field":"s"},"x":{"datum":5.8,"type":"quantitative","scale":{"domain":[0,181],"nice":false,"zero":false},"axis":{"orient":"top","values":[0,14,28,43.5,59,74,89,104.5,120,135,150,165.5,181],"tickSize":-6,"labels":false,"title":null,"minExtent":0,"maxExtent":0}},
"y":{"datum":1692,"type":"quantitative","scale":{"domain":[0,2500],"nice":false,"zero":false},"axis":{"orient":"right","values":[0,100,200,300,400,500,600,700,800,900,1000,1100,1200,1300,1400,1500,1600,1700,1800,1900,2000,2100,2200,2300,2400,2500],"tickSize":-9,"labels":false,"title":null,"minExtent":0,"maxExtent":0}}}}
],
"resolve":{"axis":{"x":"independent","y":"independent"}}},
{"width":910,"height":166,
"layer":[
{"data":{"name":"kp"},"mark":{"type":"line","color":"black","strokeWidth":1,"clip":true},
"encoding":{"x":{"field":"t","type":"quantitative","scale":{"domain":[0,181],"nice":false,"zero":false},"axis":{"orient":"bottom","values":[0,14,28,43.5,59,74,89,104.5,120,135,150,165.5,181],"tickSize":-6,"labelExpr":"datum.value === 0 ? 'Feb' : datum.value === 28 ? 'Mar' : datum.value === 59 ? 'Apr' : datum.value === 89 ? 'May' : datum.value === 120 ? 'Jun' : datum.value === 150 ? 'Jul' : datum.value === 181 ? 'Aug' : ''","labelFontSize":25,"labelPadding":6,"labelFlush":true,"labelFlushOffset":16,"title":"1991","titleFontSize":24,"titlePadding":0}},
"y":{"field":"v","type":"quantitative","scale":{"domain":[0,10],"nice":false,"zero":false},"axis":{"orient":"left","values":[0,1,2,3,4,5,6,7,8,9,10],"tickSize":-9,"labelExpr":"(datum.value % 2 === 0 && datum.value < 10) ? '' + datum.value : ''","labelFontSize":18,"labelPadding":13,"labelFlush":true,"title":"Kp","titleFontSize":19,"titlePadding":10}}}},
{"data":{"values":[{"s":"Kp"}]},"mark":{"type":"text","align":"left","baseline":"alphabetic","fontSize":31,"fontWeight":"bold","color":"black"},
"encoding":{"text":{"field":"s"},"x":{"datum":7.86,"type":"quantitative","scale":{"domain":[0,181],"nice":false,"zero":false},"axis":{"orient":"top","values":[0,14,28,43.5,59,74,89,104.5,120,135,150,165.5,181],"tickSize":-6,"labels":false,"title":null,"minExtent":0,"maxExtent":0}},
"y":{"datum":7.6,"type":"quantitative","scale":{"domain":[0,10],"nice":false,"zero":false},"axis":{"orient":"right","values":[0,1,2,3,4,5,6,7,8,9,10],"tickSize":-9,"labels":false,"title":null,"minExtent":0,"maxExtent":0}}}}
],
"resolve":{"axis":{"x":"independent","y":"independent"}}}
]
}
